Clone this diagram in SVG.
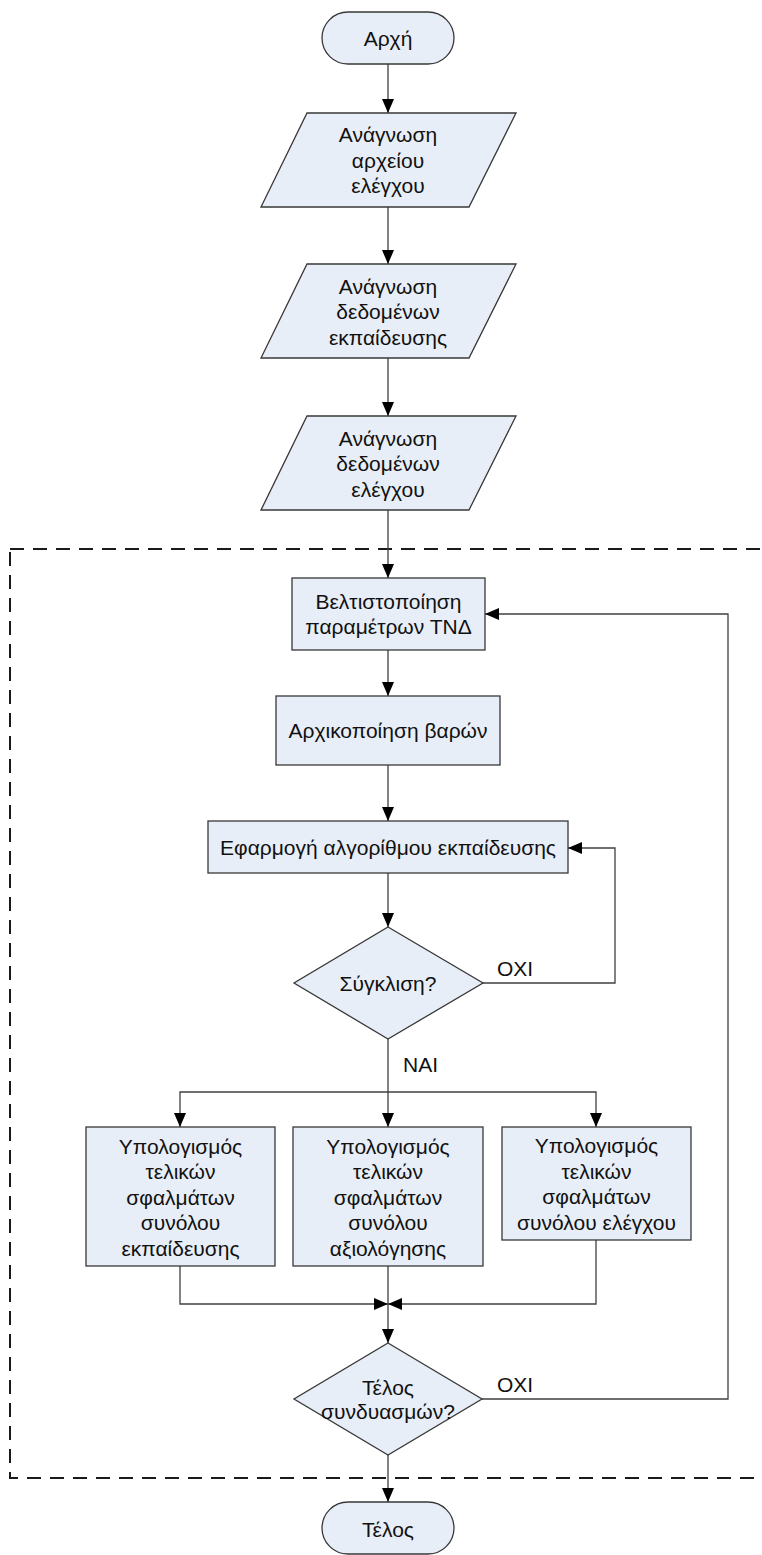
<svg xmlns="http://www.w3.org/2000/svg" width="762" height="1555" viewBox="0 0 762 1555">
  <defs>
    <style>
      .shape { fill: #E8EEF7; stroke: #383838; stroke-width: 1.3; }
      .lbl { font-family: "Liberation Sans", Arial, sans-serif; font-size: 21px; fill: #111; text-anchor: middle; }
      .tag { font-family: "Liberation Sans", Arial, sans-serif; font-size: 21px; fill: #111; }
      .wire { fill: none; stroke: #404040; stroke-width: 1.3; }
      .frame { fill: none; stroke: #1a1a1a; stroke-width: 2; stroke-dasharray: 14 9; }
    </style>
    <marker id="arrow" viewBox="0 0 14 12" refX="14" refY="6" markerWidth="14" markerHeight="12" markerUnits="userSpaceOnUse" orient="auto">
      <path d="M0,0 L14,6 L0,12 Z" fill="#000"/>
    </marker>
  </defs>
  <rect width="762" height="1555" fill="#fff"/>

  <!-- dashed frame around the optimisation loop -->
  <rect class="frame" x="10" y="549" width="770" height="929"/>

  <!-- connectors -->
  <g id="connectors">
    <line class="wire" x1="388" y1="64" x2="388" y2="113" marker-end="url(#arrow)"/>
    <line class="wire" x1="388" y1="207" x2="388" y2="264" marker-end="url(#arrow)"/>
    <line class="wire" x1="388" y1="358" x2="388" y2="416" marker-end="url(#arrow)"/>
    <line class="wire" x1="388" y1="510" x2="388" y2="578" marker-end="url(#arrow)"/>
    <line class="wire" x1="388" y1="650" x2="388" y2="696" marker-end="url(#arrow)"/>
    <line class="wire" x1="388" y1="765" x2="388" y2="821" marker-end="url(#arrow)"/>
    <line class="wire" x1="388" y1="873" x2="388" y2="927" marker-end="url(#arrow)"/>
    <!-- no convergence: back to training -->
    <polyline class="wire" points="483,983 615,983 615,848 568,848" marker-end="url(#arrow)"/>
    <!-- convergence: fan out to the three error computations -->
    <line class="wire" x1="388" y1="1039" x2="388" y2="1127" marker-end="url(#arrow)"/>
    <polyline class="wire" points="388,1092 180,1092 180,1127" marker-end="url(#arrow)"/>
    <polyline class="wire" points="388,1092 596,1092 596,1127" marker-end="url(#arrow)"/>
    <!-- merge -->
    <polyline class="wire" points="180,1266 180,1304 388,1304" marker-end="url(#arrow)"/>
    <polyline class="wire" points="596,1240 596,1304 388,1304" marker-end="url(#arrow)"/>
    <line class="wire" x1="388" y1="1266" x2="388" y2="1343" marker-end="url(#arrow)"/>
    <!-- more combinations: back to parameter optimisation -->
    <polyline class="wire" points="482,1399 728,1399 728,614 485,614" marker-end="url(#arrow)"/>
    <line class="wire" x1="388" y1="1455" x2="388" y2="1502" marker-end="url(#arrow)"/>
    <text class="tag" x="497" y="976">ΟΧΙ</text>
    <text class="tag" x="403" y="1072">ΝΑΙ</text>
    <text class="tag" x="497" y="1392">ΟΧΙ</text>
  </g>

  <g id="start">
    <rect class="shape" x="322" y="12" width="132" height="52" rx="26" ry="26"/>
    <text class="lbl" x="388" y="45.5">Αρχή</text>
  </g>

  <g id="read-config">
    <polygon class="shape" points="307,113 516,113 469,207 261,207"/>
    <text class="lbl" x="388" y="142">Ανάγνωση</text>
    <text class="lbl" x="388" y="167.5">αρχείου</text>
    <text class="lbl" x="388" y="193">ελέγχου</text>
  </g>

  <g id="read-train">
    <polygon class="shape" points="307,264 516,264 469,358 261,358"/>
    <text class="lbl" x="388" y="293.5">Ανάγνωση</text>
    <text class="lbl" x="388" y="319">δεδομένων</text>
    <text class="lbl" x="388" y="344.5">εκπαίδευσης</text>
  </g>

  <g id="read-test">
    <polygon class="shape" points="307,416 516,416 469,510 261,510"/>
    <text class="lbl" x="388" y="445.5">Ανάγνωση</text>
    <text class="lbl" x="388" y="471">δεδομένων</text>
    <text class="lbl" x="388" y="496.5">ελέγχου</text>
  </g>

  <g id="optimise">
    <rect class="shape" x="292" y="578" width="193" height="72"/>
    <text class="lbl" x="388.5" y="608.5">Βελτιστοποίηση</text>
    <text class="lbl" x="388.5" y="634">παραμέτρων ΤΝΔ</text>
  </g>

  <g id="init-weights">
    <rect class="shape" x="276" y="696" width="224" height="69"/>
    <text class="lbl" x="388" y="737.5">Αρχικοποίηση βαρών</text>
  </g>

  <g id="train">
    <rect class="shape" x="208" y="821" width="360" height="52"/>
    <text class="lbl" x="388" y="854.5">Εφαρμογή αλγορίθμου εκπαίδευσης</text>
  </g>

  <g id="converged">
    <polygon class="shape" points="388,927 483,983 388,1039 294,983"/>
    <text class="lbl" x="388" y="990.5">Σύγκλιση?</text>
  </g>

  <g id="err-train">
    <rect class="shape" x="86" y="1127" width="189" height="139"/>
    <text class="lbl" x="180.5" y="1153.5">Υπολογισμός</text>
    <text class="lbl" x="180.5" y="1179">τελικών</text>
    <text class="lbl" x="180.5" y="1204.5">σφαλμάτων</text>
    <text class="lbl" x="180.5" y="1230">συνόλου</text>
    <text class="lbl" x="180.5" y="1255.5">εκπαίδευσης</text>
  </g>

  <g id="err-valid">
    <rect class="shape" x="293" y="1127" width="190" height="139"/>
    <text class="lbl" x="388" y="1153.5">Υπολογισμός</text>
    <text class="lbl" x="388" y="1179">τελικών</text>
    <text class="lbl" x="388" y="1204.5">σφαλμάτων</text>
    <text class="lbl" x="388" y="1230">συνόλου</text>
    <text class="lbl" x="388" y="1255.5">αξιολόγησης</text>
  </g>

  <g id="err-test">
    <rect class="shape" x="502" y="1127" width="189" height="113"/>
    <text class="lbl" x="596.5" y="1153">Υπολογισμός</text>
    <text class="lbl" x="596.5" y="1178.5">τελικών</text>
    <text class="lbl" x="596.5" y="1204">σφαλμάτων</text>
    <text class="lbl" x="596.5" y="1229.5">συνόλου ελέγχου</text>
  </g>

  <g id="all-done">
    <polygon class="shape" points="388,1343 482,1399 388,1455 294,1399"/>
    <text class="lbl" x="388" y="1394.5">Τέλος</text>
    <text class="lbl" x="388" y="1419">συνδυασμών?</text>
  </g>

  <g id="end">
    <rect class="shape" x="322" y="1502" width="132" height="52" rx="26" ry="26"/>
    <text class="lbl" x="388" y="1537">Τέλος</text>
  </g>
</svg>
